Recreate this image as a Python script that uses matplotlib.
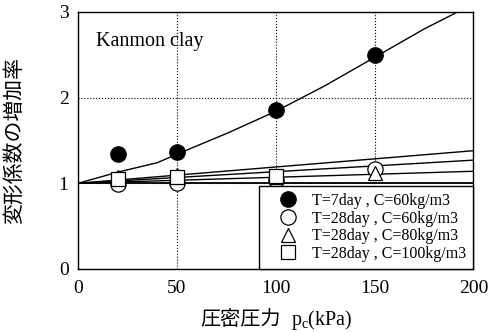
import numpy as np
import matplotlib
matplotlib.use("Agg")
import matplotlib.pyplot as plt

plt.rcParams["font.family"] = ["Liberation Serif", "Noto Sans CJK JP"]
plt.rcParams["mathtext.fontset"] = "custom"
plt.rcParams["mathtext.rm"] = "Liberation Serif"
plt.rcParams["mathtext.it"] = "Liberation Serif"

# measured points
x_pts = [20, 50, 100, 150]
t7_c60 = [1.34, 1.37, 1.86, 2.50]
t28_c60 = [0.99, 1.00, 1.04, 1.17]
t28_c80 = [1.07, 1.10, 1.07, 1.12]
x_sq = [20, 50, 100]
t28_c100 = [1.05, 1.07, 1.08]

# fitted curves
fit_x = [0, 20, 40, 50, 75, 100, 125, 150, 175, 192]
fit_t7 = [1.0, 1.13, 1.24, 1.34, 1.58, 1.84, 2.14, 2.47, 2.80, 3.0]
lin_x = [0, 200]
lin_ends = [1.38, 1.27, 1.14, 1.0]

labels = ["T=7day , C=60kg/m3", "T=28day , C=60kg/m3",
          "T=28day , C=80kg/m3", "T=28day , C=100kg/m3"]

fig = plt.figure(figsize=(4.89, 3.32), dpi=100)
ax = fig.add_axes([0.160, 0.190, 0.808, 0.774])

ax.plot(fit_x, fit_t7, "k-", linewidth=1.0)
for end in lin_ends:
    ax.plot(lin_x, [1.0, end], "k-", linewidth=1.3 if end == 1.0 else 1.0)

ax.plot(x_pts, t7_c60, "o", color="black", markersize=11, label=labels[0])
ax.plot(x_pts, t28_c60, "o", mfc="white", mec="black", mew=0.9, markersize=11, label=labels[1])
ax.plot(x_pts, t28_c80, "^", mfc="white", mec="black", mew=0.9, markersize=10, label=labels[2])
ax.plot(x_sq, t28_c100, "s", mfc="white", mec="black", mew=0.9, markersize=10, label=labels[3])

ax.set_xlim(0, 200)
ax.set_ylim(0, 3)
ax.set_xticks([0, 50, 100, 150, 200])
ax.set_yticks([0, 1, 2, 3])
ax.tick_params(direction="in", length=0, labelsize=14)
ax.tick_params(axis="x", pad=8)
ax.tick_params(axis="y", pad=7)
ax.grid(True, linestyle=":", color="black", linewidth=0.8)
for s in ax.spines.values():
    s.set_linewidth(1.0)

ax.text(9, 2.6, "Kanmon clay", fontsize=14.5, va="baseline")

# x label in two parts so the CJK glyphs fall back properly
fig.text(281 / 489, 0.022, "圧密圧力", ha="right", va="baseline",
         family=["Noto Sans CJK JP"], fontsize=14.5)
fig.text(291 / 489, 0.022, "$\\mathregular{p_c}$(kPa)", ha="left", va="baseline",
         fontsize=14.5)
fig.text(14 / 489, 0.5 * (0.190 + 0.964), "変形係数の増加率", rotation=90,
         ha="center", va="center", family=["Noto Sans CJK JP"], fontsize=15)

leg = ax.legend(loc="lower right", fontsize=11.5, frameon=True, fancybox=False,
                edgecolor="black", framealpha=1, borderaxespad=0,
                handletextpad=0.1, labelspacing=0.1, borderpad=0.45,
                handlelength=2.8)
leg.get_frame().set_linewidth(1.0)

plt.savefig("out.png", dpi=100)
